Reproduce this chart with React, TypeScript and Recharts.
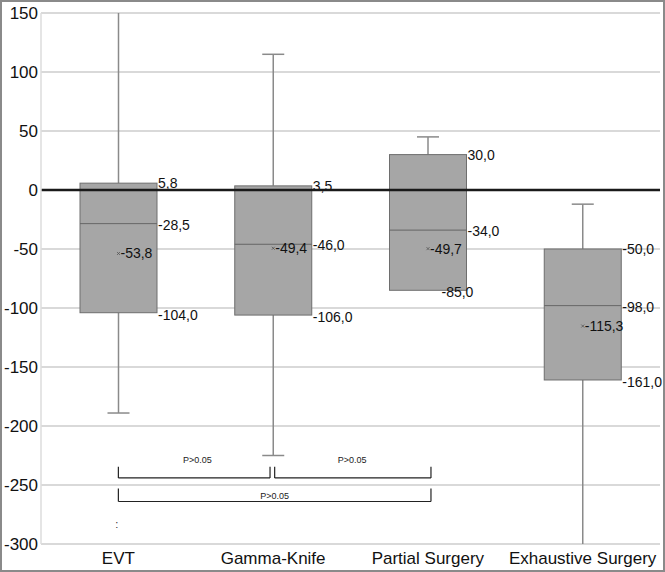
import { Bar, CartesianGrid, ComposedChart, ReferenceDot, ReferenceLine, XAxis, YAxis } from "recharts";

const groups = ["EVT", "Gamma-Knife", "Partial Surgery", "Exhaustive Surgery"];
const minimums = [-189, -225, -85, -300];
const lowerQuartiles = [-104, -106, -85, -161];
const medians = [-28.5, -46, -34, -98];
const means = [-53.8, -49.4, -49.7, -115.3];
const upperQuartiles = [5.8, 3.5, 30, -50];
const maximums = [150, 115, 45, -12];

const yTicks = [-300, -250, -200, -150, -100, -50, 0, 50, 100, 150];
const Y_MIN = -300;
const Y_MAX = 150;

// comparison brackets, x in band units (0..4 across the plot)
const bracketStarts = [0.5, 1.51, 0.5];
const bracketEnds = [1.48, 2.52, 2.52];
const bracketLevels = [-244, -244, -264];
const bracketTops = [-234.5, -234.5, -253];
const pLabelX = [1.01, 2.01, 1.51];
const pLabelY = [-229, -229, -259];
const pLabels = ["P>0.05", "P>0.05", "P>0.05"];

const rows = groups.map((name, i) => ({
  name,
  band: i + 0.5,
  min: minimums[i],
  max: maximums[i],
}));

const FONT = "'Liberation Sans', Arial, sans-serif";
const fmt = (v: number) => v.toFixed(1).replace(".", ",");
const q1LabelDx = [0, 0, -26, 0];

function BoxShape(props: any) {
  const { x, y, width, height, index } = props;
  const top = Math.min(y, y + height);
  const bottom = Math.max(y, y + height);
  const hi = maximums[index];
  const lo = minimums[index];
  const py = (v: number) => top + ((hi - v) / (hi - lo)) * (bottom - top);
  const cx = x + width / 2;
  const right = x + width;
  const q1 = lowerQuartiles[index];
  const q3 = upperQuartiles[index];
  const med = medians[index];
  const mean = means[index];
  const whisker = "#8a8a8a";
  const txt = { fontFamily: FONT, fontSize: 14, fill: "#111" };
  return (
    <g>
      {hi > q3 && <line x1={cx} x2={cx} y1={py(hi)} y2={py(q3)} stroke={whisker} strokeWidth={1.5} />}
      {hi > q3 && hi < Y_MAX && (
        <line x1={cx - 11} x2={cx + 11} y1={py(hi)} y2={py(hi)} stroke={whisker} strokeWidth={1.5} />
      )}
      {lo < q1 && <line x1={cx} x2={cx} y1={py(q1)} y2={py(lo)} stroke={whisker} strokeWidth={1.5} />}
      {lo < q1 && lo > Y_MIN && (
        <line x1={cx - 11} x2={cx + 11} y1={py(lo)} y2={py(lo)} stroke={whisker} strokeWidth={1.5} />
      )}
      <rect x={x} y={py(q3)} width={width} height={py(q1) - py(q3)} fill="#a6a6a6" stroke="#6e6e6e" strokeWidth={1} />
      <line x1={x} x2={right} y1={py(med)} y2={py(med)} stroke="#666" strokeWidth={1} />
      <line x1={cx - 1.5} x2={cx + 1.5} y1={py(mean) - 1.5} y2={py(mean) + 1.5} stroke="#555" strokeWidth={0.8} />
      <line x1={cx - 1.5} x2={cx + 1.5} y1={py(mean) + 1.5} y2={py(mean) - 1.5} stroke="#555" strokeWidth={0.8} />
      <text x={cx + 2} y={py(mean)} dominantBaseline="central" {...txt}>
        {fmt(mean)}
      </text>
      <text x={right + 1} y={py(q3)} dominantBaseline="central" {...txt}>
        {fmt(q3)}
      </text>
      <text x={right + 1} y={py(med) + 1} dominantBaseline="central" {...txt}>
        {fmt(med)}
      </text>
      <text x={right + 1 + q1LabelDx[index]} y={py(q1) + 2} dominantBaseline="central" {...txt}>
        {fmt(q1)}
      </text>
    </g>
  );
}

export default function App() {
  return (
    <div
      style={{
        position: "absolute",
        left: 0,
        top: 0,
        width: 665,
        height: 572,
        boxSizing: "border-box",
        border: "2px solid #8a8a8a",
        background: "#fff",
      }}
    >
      <ComposedChart width={661} height={568} data={rows} margin={{ top: 11, right: 3, bottom: 0, left: 0 }}>
        <CartesianGrid vertical={false} stroke="#d9d9d9" strokeWidth={2} />
        <XAxis
          dataKey="name"
          axisLine={false}
          tickLine={false}
          tickSize={0}
          tickMargin={8}
          height={26}
          interval={0}
          tick={{ fontSize: 17, fill: "#111", fontFamily: FONT }}
        />
        <XAxis xAxisId="n" dataKey="band" type="number" domain={[0, 4]} hide allowDataOverflow />
        <YAxis
          domain={[Y_MIN, Y_MAX]}
          ticks={yTicks}
          width={39}
          interval={0}
          axisLine={{ stroke: "#dcdcdc", strokeWidth: 1.5 }}
          tickLine={false}
          tickSize={0}
          tickMargin={3}
          tick={{ fontSize: 17, fill: "#111", fontFamily: FONT }}
        />
        <ReferenceLine y={0} stroke="#1a1a1a" strokeWidth={2.5} />
        <Bar
          dataKey={(d: any) => [d.min, d.max]}
          barSize={77}
          shape={BoxShape}
          isAnimationActive={false}
        />
        {bracketStarts.map((s, i) => (
          <ReferenceLine
            key={`h${i}`}
            xAxisId="n"
            segment={[
              { x: s, y: bracketLevels[i] },
              { x: bracketEnds[i], y: bracketLevels[i] },
            ]}
            stroke="#222"
            strokeWidth={1.2}
          />
        ))}
        {bracketStarts.map((s, i) => (
          <ReferenceLine
            key={`l${i}`}
            xAxisId="n"
            segment={[
              { x: s, y: bracketTops[i] },
              { x: s, y: bracketLevels[i] },
            ]}
            stroke="#222"
            strokeWidth={1.2}
          />
        ))}
        {bracketEnds.map((e, i) => (
          <ReferenceLine
            key={`r${i}`}
            xAxisId="n"
            segment={[
              { x: e, y: bracketTops[i] },
              { x: e, y: bracketLevels[i] },
            ]}
            stroke="#222"
            strokeWidth={1.2}
          />
        ))}
        {pLabels.map((t, i) => (
          <ReferenceDot
            key={`p${i}`}
            xAxisId="n"
            x={pLabelX[i]}
            y={pLabelY[i]}
            r={0}
            shape={(p: any) => (
              <text x={p.cx} y={p.cy} textAnchor="middle" dominantBaseline="central" fontSize={9} fill="#222" fontFamily={FONT}>
                {t}
              </text>
            )}
          />
        ))}
        <ReferenceDot
          xAxisId="n"
          x={0.49}
          y={-283}
          r={0}
          shape={(p: any) => (
            <text x={p.cx} y={p.cy} textAnchor="middle" dominantBaseline="central" fontSize={11} fill="#333" fontFamily={FONT}>
              :
            </text>
          )}
        />
      </ComposedChart>
    </div>
  );
}
